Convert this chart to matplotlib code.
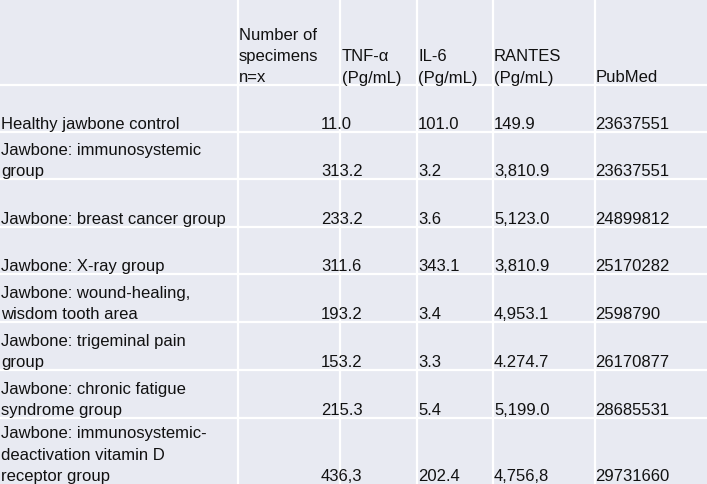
import matplotlib
matplotlib.use("Agg")
import matplotlib.pyplot as plt

# ---- data ----
row_labels = [
    ["Healthy jawbone control"],
    ["Jawbone: immunosystemic", "group"],
    ["Jawbone: breast cancer group"],
    ["Jawbone: X-ray group"],
    ["Jawbone: wound-healing,", "wisdom tooth area"],
    ["Jawbone: trigeminal pain", "group"],
    ["Jawbone: chronic fatigue", "syndrome group"],
    ["Jawbone: immunosystemic-", "deactivation vitamin D", "receptor group"],
]
tnf = ["11.0", "313.2", "233.2", "311.6", "193.2", "153.2", "215.3", "436,3"]
il6 = ["101.0", "3.2", "3.6", "343.1", "3.4", "3.3", "5.4", "202.4"]
rantes = ["149.9", "3,810.9", "5,123.0", "3,810.9", "4,953.1", "4.274.7", "5,199.0", "4,756,8"]
pubmed = ["23637551", "23637551", "24899812", "25170282", "2598790", "26170877", "28685531", "29731660"]
headers = [
    ["Number of", "specimens", "n=x"],
    ["TNF-α", "(Pg/mL)"],
    ["IL-6", "(Pg/mL)"],
    ["RANTES", "(Pg/mL)"],
    ["PubMed"],
]

# ---- layout (pixels) ----
W, H = 707, 485
bg = "#E8EAF2"
row_bottoms = [133, 180, 228, 275, 323, 371, 419, 485]
header_bottom = 86
col_lines = [238, 340, 417, 493, 595]
header_x = [239, 342, 418, 494, 596]
value_x = [321, 418, 494, 595]
label_x = 1
line_gap = 21.5
base_off = 3.5
fs = 12.0
font = "Liberation Sans"

fig = plt.figure(figsize=(W / 100, H / 100), dpi=100)
fig.patch.set_facecolor(bg)
ax = fig.add_axes([0, 0, 1, 1])
ax.set_xlim(0, W)
ax.set_ylim(H, 0)
ax.axis("off")
ax.set_facecolor(bg)

# grid lines
for y in [header_bottom] + row_bottoms[:-1]:
    ax.plot([0, W], [y, y], color="white", lw=1.6, solid_capstyle="butt")
for x in col_lines:
    ax.plot([x, x], [0, H], color="white", lw=1.6, solid_capstyle="butt")

def draw_lines(x, bottom, lines):
    n = len(lines)
    for i, t in enumerate(lines):
        y = bottom - base_off - (n - 1 - i) * line_gap
        ax.text(x, y, t, fontsize=fs, family=[font, "DejaVu Sans"],
                color="#111111", ha="left", va="baseline")

for x, h in zip(header_x, headers):
    draw_lines(x, header_bottom, h)

for i, b in enumerate(row_bottoms):
    draw_lines(label_x, b, row_labels[i])
    for x, v in zip(value_x, [tnf[i], il6[i], rantes[i], pubmed[i]]):
        draw_lines(x, b, [v])

fig.savefig("out.png", dpi=100, facecolor=bg)
